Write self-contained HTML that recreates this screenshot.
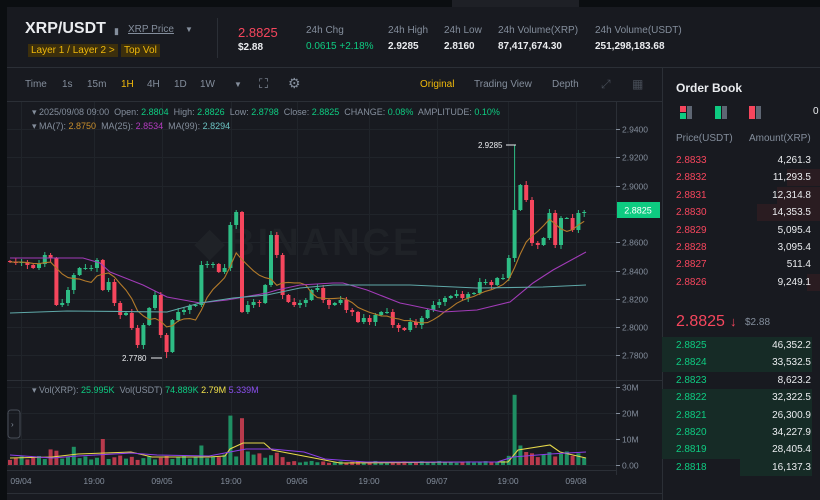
<!DOCTYPE html>
<html><head><meta charset="utf-8"><style>
*{margin:0;padding:0;box-sizing:border-box}
body{width:820px;height:500px;background:#181a20;font-family:"Liberation Sans",sans-serif;overflow:hidden;position:relative;color:#eaecef}
.a{position:absolute;white-space:nowrap}
.g{color:#848e9c}
.gr{color:#0ecb81}
.rd{color:#f6465d}
.top{z-index:3}
</style></head><body>
<div class="a" style="left:0;top:0;width:820px;height:7px;background:#0b0e11"></div>
<div class="a" style="left:452px;top:0;width:127px;height:7px;background:#1e2026"></div>
<div class="a" style="left:0;top:0;width:7px;height:500px;background:#0b0e11"></div>
<div class="a" style="left:7px;top:67px;width:813px;height:1px;background:#2b2f36"></div>
<div class="a" style="left:7px;top:101px;width:655px;height:1px;background:#2b2f36"></div>
<div class="a" style="left:662px;top:68px;width:1px;height:432px;background:#2b2f36"></div>
<div class="a" style="left:217px;top:18px;width:1px;height:40px;background:#2b2f36"></div>
<div class="a" style="left:7px;top:493px;width:655px;height:1px;background:#2b2f36"></div>

<div class="a" style="left:25px;top:20px;font-size:16px;font-weight:bold">XRP/USDT</div>
<div class="a g" style="left:114px;top:26px;font-size:9px">▮</div>
<div class="a g" style="left:128px;top:24px;font-size:10px;text-decoration:underline">XRP Price</div>
<div class="a g" style="left:185px;top:25px;font-size:8px">▼</div>
<div class="a" style="left:28px;top:44px;font-size:10px;background:#3c2f0c;color:#f0b90b;padding:1px 3px">Layer 1 / Layer 2 &gt;</div>
<div class="a" style="left:121px;top:44px;font-size:10px;background:#3c2f0c;color:#f0b90b;padding:1px 3px">Top Vol</div>
<div class="a rd" style="left:238px;top:25px;font-size:13px">2.8825</div>
<div class="a" style="left:238px;top:42px;font-size:10px;font-weight:bold">$2.88</div>
<div class="a g" style="left:306px;top:25px;font-size:10px">24h Chg</div>
<div class="a gr" style="left:306px;top:41px;font-size:10px">0.0615 +2.18%</div>
<div class="a g" style="left:388px;top:25px;font-size:10px">24h High</div>
<div class="a" style="left:388px;top:41px;font-size:10px;font-weight:bold">2.9285</div>
<div class="a g" style="left:444px;top:25px;font-size:10px">24h Low</div>
<div class="a" style="left:444px;top:41px;font-size:10px;font-weight:bold">2.8160</div>
<div class="a g" style="left:498px;top:25px;font-size:10px">24h Volume(XRP)</div>
<div class="a" style="left:498px;top:41px;font-size:10px;font-weight:bold">87,417,674.30</div>
<div class="a g" style="left:595px;top:25px;font-size:10px">24h Volume(USDT)</div>
<div class="a" style="left:595px;top:41px;font-size:10px;font-weight:bold">251,298,183.68</div>

<div class="a g" style="left:25px;top:79px;font-size:10px">Time</div>
<div class="a g" style="left:62px;top:79px;font-size:10px">1s</div>
<div class="a g" style="left:87px;top:79px;font-size:10px">15m</div>
<div class="a" style="left:121px;top:79px;font-size:10px;color:#f0b90b">1H</div>
<div class="a g" style="left:147px;top:79px;font-size:10px">4H</div>
<div class="a g" style="left:174px;top:79px;font-size:10px">1D</div>
<div class="a g" style="left:200px;top:79px;font-size:10px">1W</div>
<div class="a g" style="left:234px;top:80px;font-size:8px">▼</div>
<div class="a g" style="left:259px;top:76px;font-size:13px">⛶</div>
<div class="a g" style="left:288px;top:75px;font-size:14px">⚙</div>
<div class="a" style="left:420px;top:79px;font-size:10px;color:#f0b90b">Original</div>
<div class="a g" style="left:474px;top:79px;font-size:10px">Trading View</div>
<div class="a g" style="left:552px;top:79px;font-size:10px">Depth</div>
<div class="a" style="left:601px;top:77px;font-size:12px;color:#474d57">⤢</div>
<div class="a" style="left:632px;top:77px;font-size:12px;color:#474d57">▦</div>

<div class="a g top" style="left:32px;top:107px;font-size:9px">▾ 2025/09/08 09:00&nbsp; Open: <span class="gr">2.8804</span>&nbsp; High: <span class="gr">2.8826</span>&nbsp; Low: <span class="gr">2.8798</span>&nbsp; Close: <span class="gr">2.8825</span>&nbsp; CHANGE: <span class="gr">0.08%</span>&nbsp; AMPLITUDE: <span class="gr">0.10%</span></div>
<div class="a g top" style="left:32px;top:121px;font-size:9px">▾ MA(7): <span style="color:#c98f2c">2.8750</span>&nbsp; MA(25): <span style="color:#b43cc0">2.8534</span>&nbsp; MA(99): <span style="color:#6cc3c3">2.8294</span></div>
<div class="a g top" style="left:32px;top:385px;font-size:9px">▾ Vol(XRP): <span class="gr">25.995K</span>&nbsp; Vol(USDT) <span class="gr">74.889K</span> <span style="color:#f0e04b">2.79M</span> <span style="color:#8c4ff0">5.339M</span></div>

<svg class="a" style="left:0;top:0;z-index:1" width="662" height="500" id="ch">
<g stroke="#20242a" stroke-width="1" id="grid"></g>
<text x="195" y="255" font-size="38" font-weight="bold" fill="#1f2227" font-family="Liberation Sans" letter-spacing="3">◆BINANCE</text>
<line x1="616.5" y1="102" x2="616.5" y2="475" stroke="#2b2f36"/>
<line x1="7" y1="380.5" x2="662" y2="380.5" stroke="#2b2f36"/>
<line x1="7" y1="470.5" x2="616" y2="470.5" stroke="#2b2f36"/>
<g id="ax" font-size="8.5" fill="#848e9c" font-family="Liberation Sans"></g>
<g id="vol"></g><g id="cnd"></g><g id="ma" fill="none" stroke-width="1.1"></g>
<rect x="617" y="202" width="43" height="16" fill="#0ecb81"/>
<text x="638" y="213.5" font-size="9" fill="#fff" text-anchor="middle" font-family="Liberation Sans">2.8825</text>
<text x="478" y="148" font-size="8" fill="#eaecef" font-family="Liberation Sans">2.9285</text>
<line x1="506" y1="145" x2="516" y2="145" stroke="#eaecef"/>
<text x="122" y="361" font-size="8" fill="#eaecef" font-family="Liberation Sans">2.7780</text>
<line x1="151" y1="358" x2="162" y2="358" stroke="#eaecef"/>
<rect x="8" y="410" width="12" height="28" rx="3" fill="none" stroke="#474d57"/>
<text x="11" y="427" font-size="8" fill="#848e9c">›</text>
</svg>

<div class="a" style="left:676px;top:81px;font-size:12px;font-weight:bold">Order Book</div>
<div class="a" style="left:680px;top:106px;width:6px;height:6px;background:#f6465d"></div>
<div class="a" style="left:680px;top:113px;width:6px;height:6px;background:#0ecb81"></div>
<div class="a" style="left:687px;top:106px;width:5px;height:13px;background:#5e6673"></div>
<div class="a" style="left:715px;top:106px;width:6px;height:13px;background:#0ecb81"></div>
<div class="a" style="left:722px;top:106px;width:5px;height:13px;background:#5e6673"></div>
<div class="a" style="left:749px;top:106px;width:6px;height:13px;background:#f6465d"></div>
<div class="a" style="left:756px;top:106px;width:5px;height:13px;background:#5e6673"></div>
<div class="a" style="left:813px;top:106px;font-size:10px">0</div>
<div class="a g" style="left:676px;top:133px;font-size:10px">Price(USDT)</div>
<div class="a g" style="left:749px;top:133px;font-size:10px">Amount(XRP)</div>
<div id="ob"></div>
<div class="a rd" style="left:676px;top:313px;font-size:16px">2.8825</div>
<div class="a rd" style="left:730px;top:314px;font-size:13px">↓</div>
<div class="a g" style="left:745px;top:317px;font-size:10px">$2.88</div>

<script>
const NS="http://www.w3.org/2000/svg";
function el(p,t,a){const e=document.createElementNS(NS,t);for(const k in a)e.setAttribute(k,a[k]);p.appendChild(e);return e;}
const grid=document.getElementById('grid'),ax=document.getElementById('ax');
const py=p=>129+(2.94-p)/0.02*28.3;
["2.9400","2.9200","2.9000","2.8800","2.8600","2.8400","2.8200","2.8000","2.7800"].forEach(s=>{const y=Math.round(py(+s))+.5;el(grid,'line',{x1:7,y1:y,x2:616,y2:y});if(s!="2.8800"){el(ax,'line',{x1:616,y1:y,x2:620,y2:y,stroke:'#848e9c'});el(ax,'text',{x:622,y:y+3}).textContent=s;}});
[["30M",387],["20M",413],["10M",439],["0.00",465]].forEach(([s,y])=>{el(grid,'line',{x1:7,y1:y+.5,x2:616,y2:y+.5});el(ax,'line',{x1:616,y1:y+.5,x2:620,y2:y+.5,stroke:'#848e9c'});el(ax,'text',{x:622,y:y+3.5}).textContent=s;});
[[21,"09/04"],[94,"19:00"],[162,"09/05"],[231,"19:00"],[297,"09/06"],[369,"19:00"],[437,"09/07"],[508,"19:00"],[576,"09/08"]].forEach(([x,s])=>{el(grid,'line',{x1:x+.5,y1:102,x2:x+.5,y2:470});el(ax,'text',{x:x,y:484,'text-anchor':'middle'}).textContent=s;});
const C=[262,263,262,265,268,264,255,258,305,303,290,275,268,268,268,260,290,282,303,315,313,328,345,325,308,295,335,352,320,312,310,306,305,265,264,264,272,268,225,212,312,305,302,303,285,235,255,295,302,305,303,300,290,288,300,305,303,300,310,312,322,318,322,315,312,312,325,328,330,322,325,318,310,305,302,298,296,294,298,294,293,282,282,285,278,278,258,210,185,200,243,245,238,213,245,218,218,230,213,212];
const V=[];for(let i=0;i<100;i++){let b=i<36?2.8:i<48?4:i<86?1.2:4;V.push(b*(0.7+0.6*((i*37)%11)/10));}
Object.assign(V,{7:6,8:5.5,11:7,16:10,33:7.5,38:19,40:18,42:4,87:27,88:7.5,89:5,90:4.5});
const cnd=document.getElementById('cnd'),vol=document.getElementById('vol');
for(let i=0;i<100;i++){const x=10+i*5.8,c=C[i],o=i?C[i-1]:261,up=c<=o,col=up?'#2ebd85':'#f6465d';
let hi=Math.min(o,c)-1-(i*7)%4,lo=Math.max(o,c)+1+(i*5)%4;if(i==87)hi=145;if(i==27)lo=358;
el(cnd,'line',{x1:x,y1:hi,x2:x,y2:lo,stroke:col});el(cnd,'rect',{x:x-2,y:Math.min(o,c),width:4,height:Math.max(1,Math.abs(o-c)),fill:col});
const h=V[i]*2.6;el(vol,'rect',{x:x-2,y:465-h,width:4,height:h,fill:up?'#1f8f63':'#b83a4c'});}
const ma=document.getElementById('ma');
const P=(a,s)=>el(ma,'polyline',{points:a.map(p=>p.join(',')).join(' '),stroke:s});
let m7=[];for(let i=0;i<100;i++){let s=0;for(let k=0;k<7;k++)s+=C[Math.max(0,i-k)];m7.push([10+i*5.8,(s/7).toFixed(1)]);}
P(m7,'#b37a2a');
P([[10,258],[83,258],[100,263],[110,272],[143,285],[167,297],[200,303],[227,300],[267,293],[277,290],[300,285],[333,283],[343,283],[367,290],[400,303],[410,305],[443,312],[477,310],[510,302],[533,283],[553,270],[586,252]],'#a23bb8');
P([[10,313],[67,311],[167,312],[200,303],[233,298],[267,295],[300,288],[333,285],[410,285],[477,288],[543,287],[586,285]],'#5fa8a8');
P([[10,458],[52,457],[78,454],[131,452],[152,457],[209,457],[225,456],[230,449],[243,443],[264,443],[272,450],[314,458],[340,463],[471,462],[508,462],[518,450],[550,445],[560,452],[586,458]],'#e6d84a');
P([[10,455],[52,458],[78,456],[131,453],[157,455],[209,456],[230,452],[246,449],[272,449],[304,452],[325,459],[366,462],[497,462],[513,457],[550,454],[586,452]],'#8c3fe8');
const ob=document.getElementById('ob');let h='';
const asks=[["2.8833","4,261.3",0],["2.8832","11,293.5",33],["2.8831","12,314.8",43],["2.8830","14,353.5",63],["2.8829","5,095.4",0],["2.8828","3,095.4",0],["2.8827","511.4",0],["2.8826","9,249.1",13]];
asks.forEach((r,i)=>{const y=152+i*17.4;if(r[2])h+=`<div class="a" style="left:${820-r[2]}px;top:${y}px;width:${r[2]}px;height:17px;background:#2a1c21"></div>`;h+=`<div class="a rd" style="left:676px;top:${y+3}px;font-size:10px">${r[0]}</div><div class="a" style="right:9px;top:${y+3}px;font-size:10px">${r[1]}</div>`;});
const bids=[["2.8825","46,352.2",150],["2.8824","33,532.5",150],["2.8823","8,623.2",0],["2.8822","32,322.5",150],["2.8821","26,300.9",150],["2.8820","34,227.9",150],["2.8819","28,405.4",150],["2.8818","16,137.3",72]];
bids.forEach((r,i)=>{const y=337+i*17.4;if(r[2])h+=`<div class="a" style="left:${812-r[2]}px;top:${y}px;width:${r[2]}px;height:17.4px;background:#162b26"></div>`;h+=`<div class="a gr" style="left:676px;top:${y+3}px;font-size:10px">${r[0]}</div><div class="a" style="right:9px;top:${y+3}px;font-size:10px">${r[1]}</div>`;});
ob.innerHTML=h;
</script>
</body></html>
